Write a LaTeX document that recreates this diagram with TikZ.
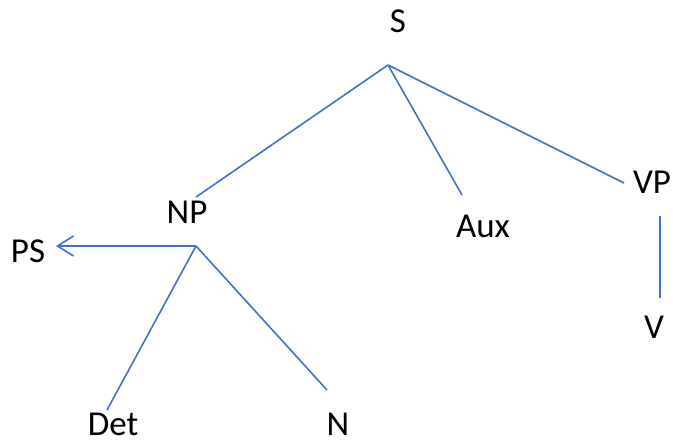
\documentclass[tikz,border=0pt]{standalone}
\usepackage{fontspec}
\setmainfont{Carlito}
\usetikzlibrary{arrows.meta}
\definecolor{branch}{HTML}{4472C4}
\begin{document}
\begin{tikzpicture}[x=1pt,y=-1pt,
  label/.style={inner sep=0pt,anchor=base,font=\fontsize{35}{42}\selectfont,text=black},
  edge/.style={draw=branch,line width=1.6pt}]
\useasboundingbox (0,0) rectangle (673,440);
% category labels, placed by their baselines
\node[label] (S)   at (398,32)  {S};
\node[label] (NP)  at (187,223) {NP};
\node[label] (PS)  at (28,262)  {PS};
\node[label] (Aux) at (483,237) {Aux};
\node[label] (VP)  at (652,193) {VP};
\node[label] (V)   at (654,338) {V};
\node[label] (Det) at (113,435) {Det};
\node[label] (N)   at (338,435) {N};
% branch end points
\coordinate (s0)  at (388,65);
\coordinate (np1) at (196,197);
\coordinate (aux1) at (462,195);
\coordinate (vp1) at (624,183);
\coordinate (np0) at (196,246);
\coordinate (ps1) at (56,246);
\coordinate (det1) at (107,410);
\coordinate (n1)  at (327,390);
\coordinate (vp0) at (660,216);
\coordinate (v1)  at (660,298);
% branches
\draw[edge] (s0) -- (np1);
\draw[edge] (s0) -- (aux1);
\draw[edge] (s0) -- (vp1);
\draw[edge,-{Straight Barb[length=16pt,width=20pt]}] (np0) -- (ps1);
\draw[edge] (np0) -- (det1);
\draw[edge] (np0) -- (n1);
\draw[edge] (vp0) -- (v1);
\end{tikzpicture}
\end{document}
